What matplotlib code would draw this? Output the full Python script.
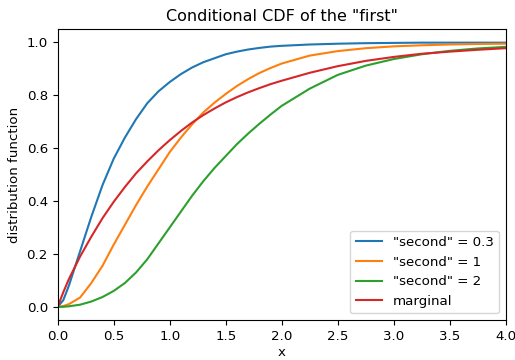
import numpy as np
import matplotlib
matplotlib.use("Agg")
import matplotlib.pyplot as plt

# values
x = [0.0, 0.05, 0.1, 0.2, 0.3, 0.4, 0.5, 0.6, 0.7, 0.8, 0.9, 1.0, 1.1, 1.2, 1.3, 1.4,
     1.5, 1.6, 1.7, 1.8, 1.9, 2.0, 2.25, 2.5, 2.75, 3.0, 3.25, 3.5, 3.75, 4.0]

cdf_03 = [0.0, 0.025, 0.08, 0.21, 0.34, 0.46, 0.56, 0.64, 0.71, 0.77, 0.815, 0.85, 0.88,
          0.905, 0.925, 0.94, 0.955, 0.965, 0.973, 0.979, 0.984, 0.987, 0.992, 0.995,
          0.997, 0.998, 0.999, 0.999, 0.999, 0.999]
cdf_1 = [0.0, 0.003, 0.01, 0.035, 0.09, 0.155, 0.235, 0.31, 0.385, 0.455, 0.52, 0.585,
         0.64, 0.69, 0.735, 0.772, 0.805, 0.835, 0.861, 0.884, 0.903, 0.92, 0.95, 0.967,
         0.978, 0.985, 0.989, 0.992, 0.994, 0.995]
cdf_2 = [0.0, 0.0, 0.002, 0.008, 0.02, 0.037, 0.06, 0.09, 0.13, 0.18, 0.24, 0.30, 0.36,
         0.42, 0.475, 0.525, 0.57, 0.615, 0.655, 0.692, 0.727, 0.76, 0.825, 0.877,
         0.912, 0.937, 0.955, 0.968, 0.977, 0.983]
marginal = [0.0, 0.055, 0.105, 0.19, 0.265, 0.335, 0.397, 0.453, 0.505, 0.55, 0.592, 0.63,
            0.665, 0.697, 0.725, 0.75, 0.773, 0.793, 0.811, 0.827, 0.842, 0.855, 0.885,
            0.91, 0.93, 0.945, 0.957, 0.965, 0.972, 0.978]

labels = ['"second" = 0.3', '"second" = 1', '"second" = 2', 'marginal']

plt.rcParams["font.size"] = 9.6

fig = plt.figure(figsize=(5.15, 3.6), dpi=100)
ax = fig.add_axes([0.112, 0.111, 0.870, 0.808])

for y, lab in zip([cdf_03, cdf_1, cdf_2, marginal], labels):
    ax.plot(x, y, label=lab)

ax.set_xlim(0, 4)
ax.set_ylim(-0.05, 1.05)
ax.set_title('Conditional CDF of the "first"')
ax.set_xlabel("x", labelpad=2)
ax.set_ylabel("distribution function")
ax.legend(loc="lower right")

fig.savefig("out.png", dpi=100)
